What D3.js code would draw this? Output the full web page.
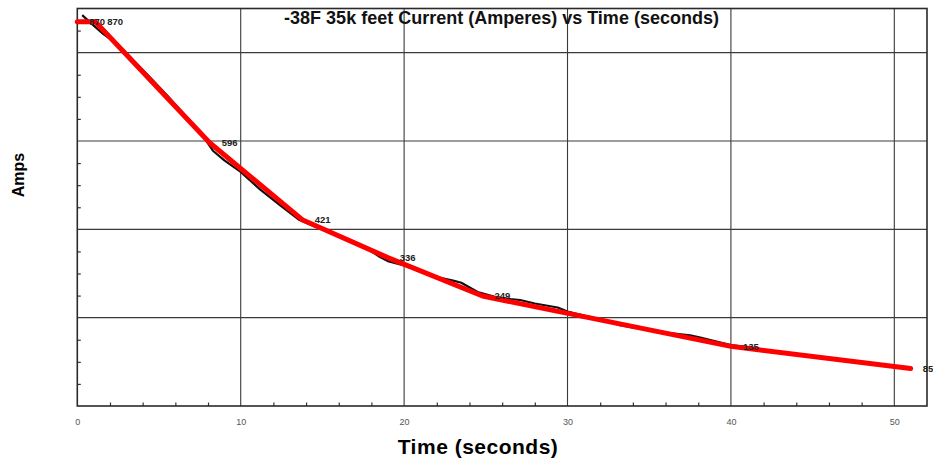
<!DOCTYPE html>
<html>
<head>
<meta charset="utf-8">
<script src="https://cdn.jsdelivr.net/npm/d3@7"></script>
<style>
  html, body { margin: 0; padding: 0; background: #fff; }
  svg { display: block; font-family: "Liberation Sans", Arial, sans-serif; }
</style>
</head>
<body>
<svg id="chart" width="933" height="462"></svg>
<script>
// ---- Data ----
const title = "-38F 35k feet Current (Amperes) vs Time (seconds)";
const xTitle = "Time (seconds)";
const yTitle = "Amps";

// measured current trace (black)
const measuredTime = [0.3, 0.8, 1.6, 2.5, 3.5, 4.5, 5.5, 6.5, 7.5, 8.3, 9.0, 10.0, 11.2, 12.4, 13.6,
  14.5, 15.5, 16.5, 17.5, 18.5, 19.0, 20.0, 21.0, 22.0, 23.0, 23.5, 24.5, 25.5, 26.5, 27.1, 28.0,
  29.4, 30.0, 31.0, 32.0, 33.2, 34.0, 35.0, 36.0, 37.5, 38.0, 39.0, 40.0, 41.0, 42.0, 43.0, 44.0,
  45.0, 46.0, 47.0, 48.0, 49.0, 50.0, 51.0];
const measuredAmps = [885, 868, 842, 818, 780, 742, 703, 662, 622, 578, 556, 530, 490, 455, 421,
  407, 393, 379, 362, 338, 328, 318, 305, 292, 284, 279, 258, 248, 242, 240, 232,
  223, 214, 205, 196, 183, 178, 172, 166, 160, 156, 147, 138, 134, 128, 122, 117,
  112, 108, 103, 98, 94, 90, 85];

// fitted piecewise line (red) with labelled break points
const fitTime = [0, 1.1, 8.1, 13.8, 19.0, 24.8, 40.0, 51.0];
const fitAmps = [870, 870, 596, 421, 336, 249, 135, 85];
const fitLabels = ["870", "870", "596", "421", "336", "249", "135", "85"];

// axis ticks
const xMajorTicks = [0, 10, 20, 30, 40, 50];
const xMinorTicks = [2, 4, 6, 8, 12, 14, 16, 18, 22, 24, 26, 28, 32, 34, 36, 38, 42, 44, 46, 48];
const yGridTicks = [200, 400, 600, 800];
const yMinorTicks = [50, 100, 150, 250, 300, 350, 450, 500, 550, 650, 700, 750, 850];

// ---- Drawing ----
const svg = d3.select("#chart");
const pLeft = 77.3, pRight = 927, pTop = 8.5, pBottom = 406;
const x = d3.scaleLinear().domain([0, 52]).range([pLeft, pRight]);
const y = d3.scaleLinear().domain([0, 900]).range([pBottom, pTop]);

// grid lines
const grid = svg.append("g").attr("stroke", "#3a3a3a").attr("stroke-width", 1.1);
grid.selectAll("line.v").data(xMajorTicks.filter(d => d > 0)).join("line")
  .attr("class", "v")
  .attr("x1", d => x(d)).attr("x2", d => x(d)).attr("y1", pTop).attr("y2", pBottom);
grid.selectAll("line.h").data(yGridTicks).join("line")
  .attr("class", "h")
  .attr("x1", pLeft).attr("x2", pRight).attr("y1", d => y(d)).attr("y2", d => y(d));

// bottom axis: labels and inward minor ticks
const xAxis = d3.axisBottom(x).tickValues(xMajorTicks).tickSize(0).tickPadding(13)
  .tickFormat(d3.format("d"));
const gx = svg.append("g").attr("transform", `translate(0,${pBottom})`).call(xAxis);
gx.select(".domain").remove();
gx.selectAll("text").attr("font-size", 9).attr("fill", "#555")
  .attr("font-family", "'Liberation Sans', Arial, sans-serif");

const xMinor = d3.axisBottom(x).tickValues(xMinorTicks).tickSize(-3.5).tickFormat("");
const gxm = svg.append("g").attr("transform", `translate(0,${pBottom})`).call(xMinor);
gxm.select(".domain").remove();
gxm.selectAll("line").attr("stroke", "#333").attr("stroke-width", 1.2);

// left axis: inward minor ticks, no labels
const yMinor = d3.axisLeft(y).tickValues(yMinorTicks).tickSize(-3.5).tickFormat("");
const gym = svg.append("g").attr("transform", `translate(${pLeft},0)`).call(yMinor);
gym.select(".domain").remove();
gym.selectAll("line").attr("stroke", "#333").attr("stroke-width", 1.2);

// frame
svg.append("rect").attr("x", pLeft).attr("y", pTop)
  .attr("width", pRight - pLeft).attr("height", pBottom - pTop)
  .attr("fill", "none").attr("stroke", "#2a2a2a").attr("stroke-width", 1.6);

// measured trace (black)
const measured = measuredTime.map((t, i) => [t, measuredAmps[i]]);
svg.append("path").datum(measured)
  .attr("fill", "none").attr("stroke", "#111").attr("stroke-width", 2.2)
  .attr("stroke-linejoin", "round")
  .attr("d", d3.line().x(d => x(d[0])).y(d => y(d[1])));

// fitted line (red)
const fit = fitTime.map((t, i) => ({t, a: fitAmps[i], label: fitLabels[i]}));
svg.append("path").datum(fit)
  .attr("fill", "none").attr("stroke", "#ff0000").attr("stroke-width", 5)
  .attr("stroke-linejoin", "round").attr("stroke-linecap", "round")
  .attr("d", d3.line().x(d => x(d.t)).y(d => y(d.a)));

// break-point labels
svg.append("g").selectAll("text").data(fit).join("text")
  .attr("x", d => x(d.t) + 12).attr("y", d => y(d.a))
  .attr("dy", "0.35em").attr("font-size", 9.5).attr("font-weight", "bold")
  .attr("fill", "#222").text(d => d.label);

// titles
svg.append("text").attr("x", 501.5).attr("y", 24).attr("text-anchor", "middle")
  .attr("font-size", 18).attr("font-weight", "bold").attr("fill", "#111").text(title);
svg.append("text").attr("x", 478).attr("y", 454).attr("text-anchor", "middle")
  .attr("font-size", 21).attr("font-weight", "bold").attr("letter-spacing", 0.5)
  .attr("fill", "#000").text(xTitle);
svg.append("text").attr("transform", "translate(24,175) rotate(-90)")
  .attr("text-anchor", "middle").attr("font-size", 16).attr("font-weight", "bold")
  .attr("fill", "#000").text(yTitle);
</script>
</body>
</html>
